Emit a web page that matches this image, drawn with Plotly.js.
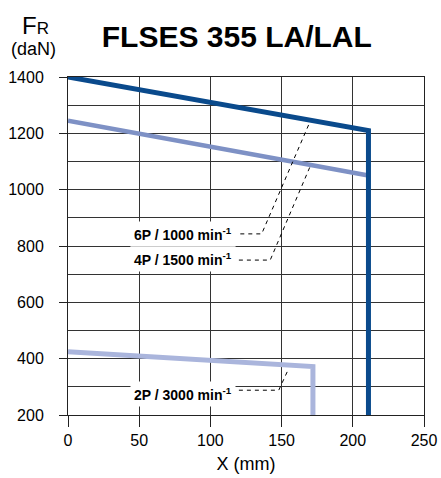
<!DOCTYPE html>
<html>
<head>
<meta charset="utf-8">
<script src="https://cdn.plot.ly/plotly-3.0.1.min.js"></script>
<style>html,body{margin:0;padding:0;background:#fff;}#chart{width:441px;height:478px;}</style>
</head>
<body>
<div id="chart"></div>
<script>
// ---- data ----
const series6P_x = [0, 211, 211];
const series6P_y = [1400, 1210, 200];
const series4P_x = [0, 211];
const series4P_y = [1245, 1050];
const series2P_x = [0, 172, 172];
const series2P_y = [425, 372, 200];

const labels = ["6P / 1000 min<sup>-1</sup>", "4P / 1500 min<sup>-1</sup>", "2P / 3000 min<sup>-1</sup>"];
const leader6P_x = [121, 136, 170];
const leader6P_y = [843, 843, 1242];
const leader4P_x = [120, 142, 170];
const leader4P_y = [750, 750, 1082];
const leader2P_x = [120, 148, 155];
const leader2P_y = [288, 288, 365];

const xTicks = [0, 50, 100, 150, 200, 250];
const yTicks = [200, 400, 600, 800, 1000, 1200, 1400];

const FONT = '"Liberation Sans", Arial, sans-serif';

const dark = '#0a4a8c', mid = '#7e91c5', light = '#aab5dc';

const traces = [
  {x: series2P_x, y: series2P_y, mode: 'lines', line: {color: light, width: 5}, hoverinfo: 'skip'},
  {x: series4P_x, y: series4P_y, mode: 'lines', line: {color: mid, width: 4.5}, hoverinfo: 'skip'},
  {x: series6P_x, y: series6P_y, mode: 'lines', line: {color: dark, width: 5}, hoverinfo: 'skip'},
  {x: leader6P_x, y: leader6P_y, mode: 'lines', line: {color: '#000', width: 1, dash: '4px,4px'}, hoverinfo: 'skip'},
  {x: leader4P_x, y: leader4P_y, mode: 'lines', line: {color: '#000', width: 1, dash: '4px,4px'}, hoverinfo: 'skip'},
  {x: leader2P_x, y: leader2P_y, mode: 'lines', line: {color: '#000', width: 1, dash: '4px,4px'}, hoverinfo: 'skip'}
];

const annFont = {family: FONT, size: 14, color: '#000', weight: 'bold'};
const layout = {
  width: 441, height: 478,
  margin: {l: 68, r: 17, t: 77, b: 63, pad: 0},
  paper_bgcolor: '#fff', plot_bgcolor: '#fff',
  showlegend: false,
  title: {text: '<b>FLSES 355 LA/LAL</b>', font: {family: FONT, size: 30, color: '#000'},
          x: 0.537, xanchor: 'center', y: 1 - 36/478, yanchor: 'middle'},
  xaxis: {
    range: [0, 250], tickvals: xTicks, ticktext: xTicks.map(String),
    showgrid: true, gridcolor: '#333', gridwidth: 1, zeroline: false,
    showline: true, mirror: true, linecolor: '#222', linewidth: 1,
    ticks: 'outside', ticklen: 11, tickcolor: '#222', tickwidth: 1,
    tickfont: {family: FONT, size: 16, color: '#000'},
    title: {text: 'X (mm)', font: {family: FONT, size: 18, color: '#000'}, standoff: 9},
    fixedrange: true
  },
  yaxis: {
    range: [200, 1400], tickvals: yTicks, ticktext: yTicks.map(String),
    showgrid: true, gridcolor: '#333', gridwidth: 1, zeroline: false,
    minor: {dtick: 100, tick0: 0, showgrid: true, gridcolor: '#333', gridwidth: 1, ticks: ''},
    showline: true, mirror: true, linecolor: '#222', linewidth: 1,
    ticks: 'outside', ticklen: 8, tickcolor: '#222', tickwidth: 1,
    tickfont: {family: FONT, size: 16, color: '#000'},
    ticklabelstandoff: 12,
    fixedrange: true
  },
  annotations: [
    {x: 80.5, y: 842, xref: 'x', yref: 'y', text: labels[0], showarrow: false, font: annFont, bgcolor: '#fff', borderpad: 3},
    {x: 80.5, y: 755, xref: 'x', yref: 'y', text: labels[1], showarrow: false, font: annFont, bgcolor: '#fff', borderpad: 3},
    {x: 80.5, y: 273, xref: 'x', yref: 'y', text: labels[2], showarrow: false, font: annFont, bgcolor: '#fff', borderpad: 3},
    {x: 0, y: 0, xref: 'paper', yref: 'paper', xanchor: 'center', yanchor: 'middle',
     text: 'F<span style="font-size:17px">R</span>', showarrow: false,
     font: {family: FONT, size: 24, color: '#000'}},
    {x: 0, y: 0, xref: 'paper', yref: 'paper', xanchor: 'center', yanchor: 'middle',
     text: '(daN)', showarrow: false, font: {family: FONT, size: 18, color: '#000'}}
  ]
};
// convert pixel positions of the unit label to paper coordinates
const pw = 441 - 68 - 17, ph = 478 - 77 - 63;
layout.annotations[3].x = (35.5 - 68) / pw; layout.annotations[3].y = 1 + (77 - 25) / ph;
layout.annotations[4].x = (33.5 - 68) / pw; layout.annotations[4].y = 1 + (77 - 49) / ph;

Plotly.newPlot('chart', traces, layout, {staticPlot: true, displayModeBar: false});
</script>
</body>
</html>
